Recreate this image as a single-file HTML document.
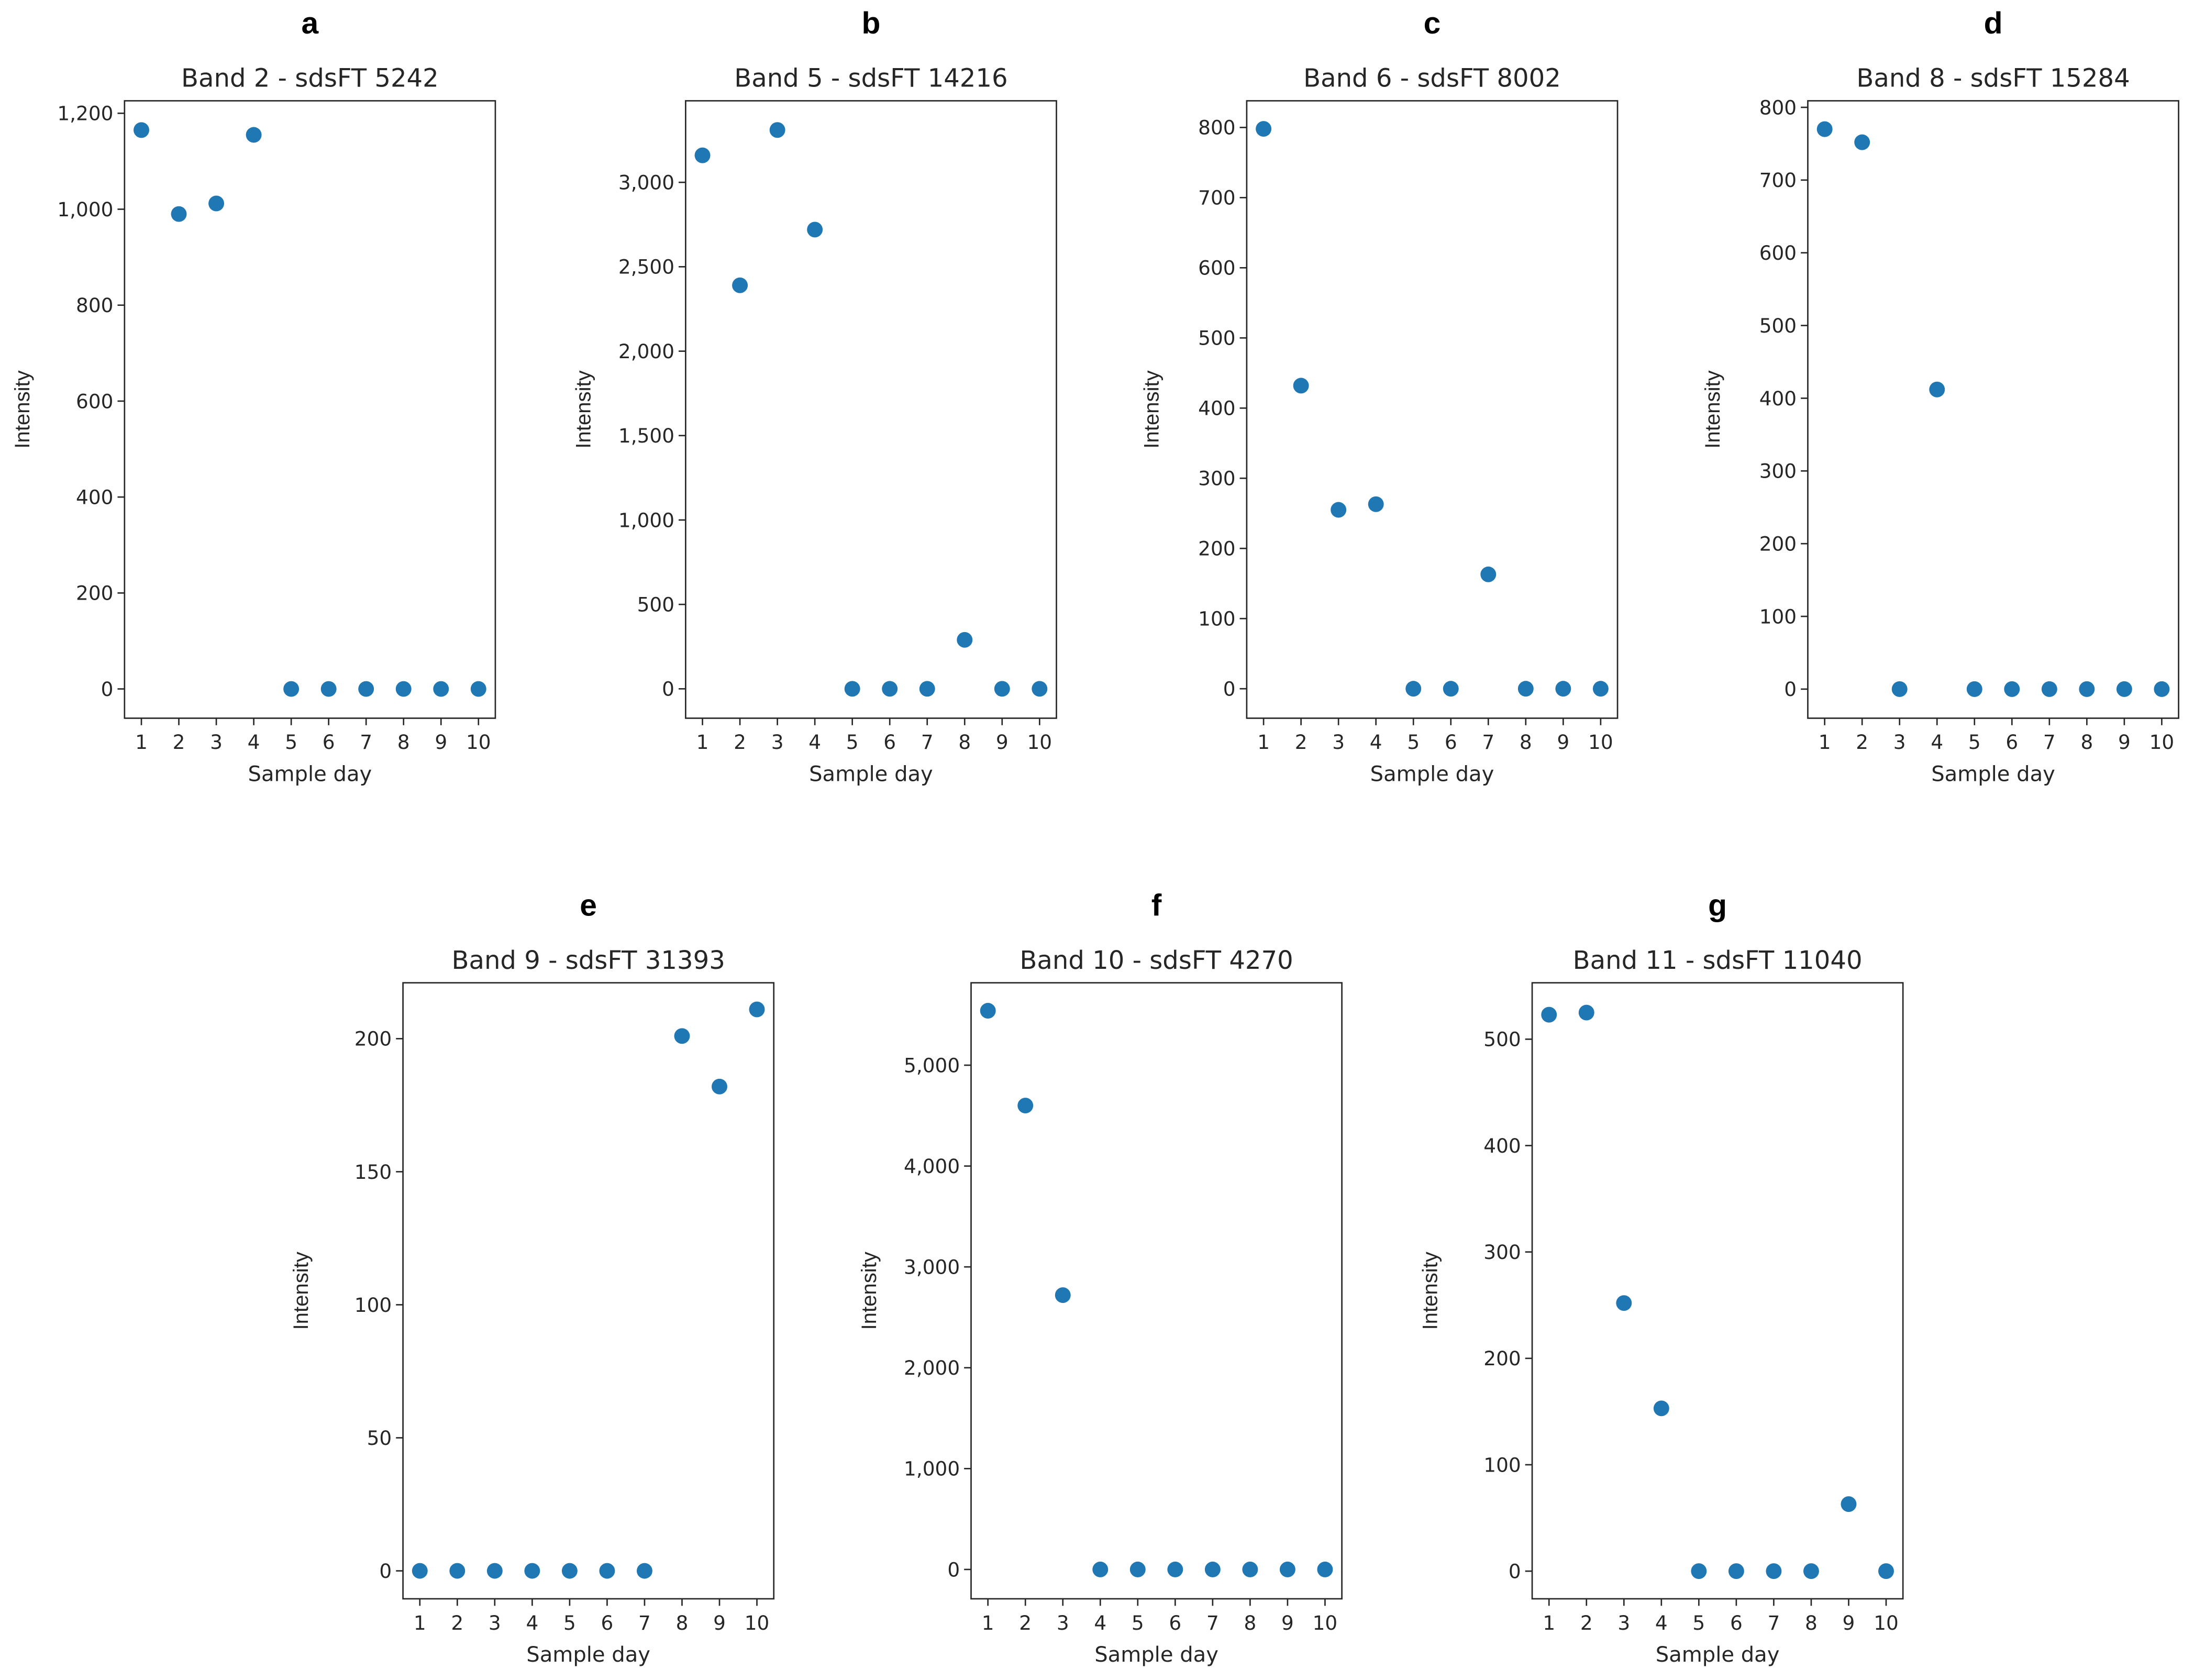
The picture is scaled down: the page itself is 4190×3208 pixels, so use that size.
<!DOCTYPE html>
<html><head><meta charset="utf-8"><style>
html,body{margin:0;padding:0;background:#fff;}
svg{display:block;}
text{font-family:"DejaVu Sans","Liberation Sans",sans-serif;fill:#262626;}
</style></head><body>
<svg id="fig" width="4190" height="3208" viewBox="0 0 1568 1200" preserveAspectRatio="none" xmlns="http://www.w3.org/2000/svg"></svg>
<script>
// ----- data -----
const days = [1,2,3,4,5,6,7,8,9,10];
const valsA = [1165, 990, 1012, 1155, 0, 0, 0, 0, 0, 0];
const valsB = [3160, 2390, 3310, 2720, 0, 0, 0, 290, 0, 0];
const valsC = [798, 432, 255, 263, 0, 0, 163, 0, 0, 0];
const valsD = [770, 752, 0, 412, 0, 0, 0, 0, 0, 0];
const valsE = [0, 0, 0, 0, 0, 0, 0, 201, 182, 211];
const valsF = [5540, 4600, 2720, 0, 0, 0, 0, 0, 0, 0];
const valsG = [523, 525, 252, 153, 0, 0, 0, 0, 63, 0];
const ticksA = [0,200,400,600,800,1000,1200];
const ticksB = [0,500,1000,1500,2000,2500,3000];
const ticksC = [0,100,200,300,400,500,600,700,800];
const ticksD = [0,100,200,300,400,500,600,700,800];
const ticksE = [0,50,100,150,200];
const ticksF = [0,1000,2000,3000,4000,5000];
const ticksG = [0,100,200,300,400,500];
const letters = ['a','b','c','d','e','f','g'];
const titles = ['Band 2 - sdsFT 5242','Band 5 - sdsFT 14216','Band 6 - sdsFT 8002','Band 8 - sdsFT 15284','Band 9 - sdsFT 31393','Band 10 - sdsFT 4270','Band 11 - sdsFT 11040'];

const NS='http://www.w3.org/2000/svg';
const svg=document.getElementById('fig');
function mk(tag,attrs,parent){const e=document.createElementNS(NS,tag);for(const k in attrs)e.setAttribute(k,attrs[k]);(parent||svg).appendChild(e);return e;}
function fmt(v){return v.toLocaleString('en-US');}

const panels=[
 {vals:valsA,ticks:ticksA,l:89,t:72,b:513,ymin:-61,ymax:1226},
 {vals:valsB,ticks:ticksB,l:490,t:72,b:513,ymin:-174,ymax:3483},
 {vals:valsC,ticks:ticksC,l:891,t:72,b:513,ymin:-42,ymax:838},
 {vals:valsD,ticks:ticksD,l:1292,t:72,b:513,ymin:-40,ymax:809},
 {vals:valsE,ticks:ticksE,l:288,t:702,b:1142,ymin:-10.5,ymax:221},
 {vals:valsF,ticks:ticksF,l:694,t:702,b:1142,ymin:-291,ymax:5817},
 {vals:valsG,ticks:ticksG,l:1095,t:702,b:1142,ymin:-26,ymax:553}
];
panels.forEach((p,i)=>{
  const W=265, r=p.l+W;
  const g=mk('g',{});
  
  
  const xs=v=>p.l+(v-0.55)/(10.45-0.55)*W;
  const ys=v=>p.b-(v-p.ymin)/(p.ymax-p.ymin)*(p.b-p.t);
  const cx=(p.l+r)/2;
  const lt=mk('text',{x:cx,y:p.t-48,'text-anchor':'middle','font-size':22,'font-weight':'bold',style:'fill:#000;font-family:"Liberation Sans",sans-serif'},g);
  lt.textContent=letters[i];
  
  
  const tt=mk('text',{x:cx,y:p.t-10,'text-anchor':'middle','font-size':18},g);
  tt.textContent=titles[i];
  
  
  const fr=mk('rect',{x:p.l,y:p.t,width:W,height:p.b-p.t,fill:'none',stroke:'#262626','stroke-width':1},g);
  
  
  p.ticks.forEach(tv=>{
    const y=ys(tv);
    mk('line',{x1:p.l-5,x2:p.l,y1:y,y2:y,stroke:'#262626'},g);
    const tl=mk('text',{x:p.l-8,y:y+5,'text-anchor':'end','font-size':14},g);
    tl.textContent=fmt(tv);
    
    
  });
  days.forEach(d=>{
    const x=xs(d);
    mk('line',{x1:x,x2:x,y1:p.b,y2:p.b+5,stroke:'#262626'},g);
    const tl=mk('text',{x:x,y:p.b+22,'text-anchor':'middle','font-size':14},g);
    tl.textContent=d;
    
    
  });
  const xl=mk('text',{x:cx,y:p.b+45,'text-anchor':'middle','font-size':15},g);
  xl.textContent='Sample day';
  
  
  const ymid=(p.t+p.b)/2, yx=p.l-68-(i==2||i==3?-5:0);
  const yl=mk('text',{x:yx,y:ymid,'text-anchor':'middle','font-size':15,transform:`rotate(-90 ${yx} ${ymid})`,style:'font-family:"Liberation Sans Narrow","Liberation Sans",sans-serif'},g);
  yl.textContent='Intensity';
  
  
  p.vals.forEach((v,j)=>{
    const c=mk('circle',{cx:xs(days[j]),cy:ys(v),r:5.6,fill:'#1f77b4'},g);
    
    
  });
});
</script>
</body></html>
